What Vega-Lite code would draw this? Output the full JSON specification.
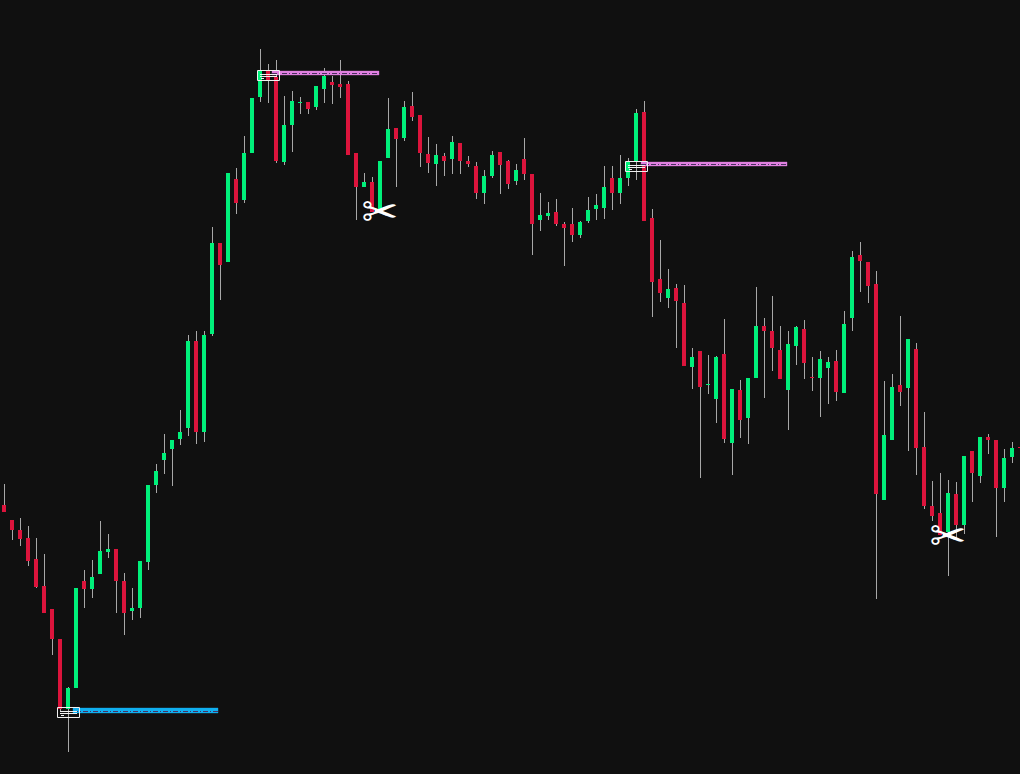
{"$schema":"https://vega.github.io/schema/vega-lite/v6.json","width":1020,"height":774,"autosize":{"type":"none"},"padding":0,"background":"#101010","config":{"view":{"stroke":null}},
"datasets":{"candles":[
{"i":0,"dir":"down","open":269,"close":262,"high":290,"low":262},
{"i":1,"dir":"down","open":254,"close":244,"high":254,"low":234},
{"i":2,"dir":"down","open":244,"close":235,"high":256,"low":228},
{"i":3,"dir":"down","open":236,"close":213,"high":248,"low":208},
{"i":4,"dir":"down","open":215,"close":187,"high":236,"low":186},
{"i":5,"dir":"down","open":188,"close":161,"high":220,"low":161},
{"i":6,"dir":"down","open":165,"close":135,"high":165,"low":119},
{"i":7,"dir":"down","open":135,"close":65,"high":135,"low":62},
{"i":8,"dir":"up","open":65,"close":86,"high":87,"low":22},
{"i":9,"dir":"up","open":86,"close":186,"high":186,"low":86},
{"i":10,"dir":"down","open":193,"close":185,"high":204,"low":166},
{"i":11,"dir":"up","open":185,"close":197,"high":214,"low":176},
{"i":12,"dir":"up","open":200,"close":223,"high":253,"low":200},
{"i":13,"dir":"up","open":222,"close":225,"high":240,"low":216},
{"i":14,"dir":"down","open":225,"close":193,"high":225,"low":161},
{"i":15,"dir":"down","open":193,"close":161,"high":201,"low":139},
{"i":16,"dir":"up","open":163,"close":166,"high":186,"low":154},
{"i":17,"dir":"up","open":166,"close":213,"high":213,"low":156},
{"i":18,"dir":"up","open":212,"close":289,"high":289,"low":204},
{"i":19,"dir":"up","open":289,"close":303,"high":310,"low":281},
{"i":20,"dir":"up","open":314,"close":321,"high":340,"low":300},
{"i":21,"dir":"up","open":325,"close":334,"high":334,"low":288},
{"i":22,"dir":"up","open":335,"close":342,"high":364,"low":329},
{"i":23,"dir":"up","open":346,"close":433,"high":439,"low":338},
{"i":24,"dir":"down","open":433,"close":342,"high":443,"low":330},
{"i":25,"dir":"up","open":342,"close":439,"high":443,"low":332},
{"i":26,"dir":"up","open":440,"close":531,"high":547,"low":438},
{"i":27,"dir":"down","open":531,"close":509,"high":531,"low":474},
{"i":28,"dir":"up","open":512,"close":601,"high":601,"low":512},
{"i":29,"dir":"down","open":595,"close":571,"high":606,"low":560},
{"i":30,"dir":"up","open":574,"close":621,"high":638,"low":571},
{"i":31,"dir":"up","open":621,"close":676,"high":676,"low":621},
{"i":32,"dir":"up","open":677,"close":703,"high":725,"low":672},
{"i":33,"dir":"down","open":703,"close":694,"high":710,"low":671},
{"i":34,"dir":"down","open":697,"close":613,"high":714,"low":611},
{"i":35,"dir":"up","open":612,"close":649,"high":678,"low":609},
{"i":36,"dir":"up","open":649,"close":673,"high":683,"low":622},
{"i":37,"dir":"up","open":671,"close":672,"high":677,"low":660},
{"i":38,"dir":"down","open":672,"close":665,"high":672,"low":660},
{"i":39,"dir":"up","open":667,"close":688,"high":688,"low":664},
{"i":40,"dir":"up","open":685,"close":698,"high":706,"low":671},
{"i":41,"dir":"down","open":692,"close":689,"high":698,"low":670},
{"i":42,"dir":"down","open":690,"close":687,"high":714,"low":676},
{"i":43,"dir":"down","open":690,"close":619,"high":693,"low":619},
{"i":44,"dir":"down","open":621,"close":587,"high":621,"low":554},
{"i":45,"dir":"up","open":587,"close":592,"high":601,"low":587},
{"i":46,"dir":"down","open":592,"close":562,"high":597,"low":562},
{"i":47,"dir":"up","open":564,"close":613,"high":613,"low":564},
{"i":48,"dir":"up","open":616,"close":645,"high":676,"low":616},
{"i":49,"dir":"down","open":646,"close":635,"high":646,"low":587},
{"i":50,"dir":"up","open":636,"close":667,"high":673,"low":633},
{"i":51,"dir":"down","open":668,"close":657,"high":682,"low":653},
{"i":52,"dir":"down","open":659,"close":621,"high":659,"low":607},
{"i":53,"dir":"down","open":620,"close":611,"high":637,"low":601},
{"i":54,"dir":"up","open":610,"close":619,"high":630,"low":588},
{"i":55,"dir":"down","open":618,"close":613,"high":621,"low":598},
{"i":56,"dir":"up","open":615,"close":632,"high":638,"low":600},
{"i":57,"dir":"down","open":631,"close":613,"high":631,"low":600},
{"i":58,"dir":"down","open":613,"close":610,"high":618,"low":607},
{"i":59,"dir":"down","open":608,"close":581,"high":612,"low":575},
{"i":60,"dir":"up","open":581,"close":598,"high":604,"low":570},
{"i":61,"dir":"up","open":598,"close":619,"high":623,"low":596},
{"i":62,"dir":"down","open":622,"close":609,"high":622,"low":580},
{"i":63,"dir":"down","open":613,"close":590,"high":614,"low":585},
{"i":64,"dir":"up","open":593,"close":604,"high":610,"low":589},
{"i":65,"dir":"down","open":615,"close":600,"high":636,"low":594},
{"i":66,"dir":"down","open":600,"close":550,"high":600,"low":519},
{"i":67,"dir":"up","open":554,"close":559,"high":581,"low":543},
{"i":68,"dir":"up","open":558,"close":561,"high":572,"low":554},
{"i":69,"dir":"down","open":562,"close":550,"high":575,"low":548},
{"i":70,"dir":"down","open":550,"close":546,"high":552,"low":508},
{"i":71,"dir":"down","open":550,"close":539,"high":566,"low":532},
{"i":72,"dir":"up","open":539,"close":552,"high":553,"low":536},
{"i":73,"dir":"up","open":553,"close":564,"high":577,"low":551},
{"i":74,"dir":"up","open":565,"close":569,"high":580,"low":554},
{"i":75,"dir":"up","open":566,"close":587,"high":608,"low":555},
{"i":76,"dir":"down","open":596,"close":581,"high":608,"low":564},
{"i":77,"dir":"up","open":581,"close":596,"high":619,"low":570},
{"i":78,"dir":"up","open":596,"close":613,"high":616,"low":588},
{"i":79,"dir":"up","open":613,"close":661,"high":665,"low":594},
{"i":80,"dir":"down","open":662,"close":553,"high":673,"low":553},
{"i":81,"dir":"down","open":556,"close":492,"high":565,"low":457},
{"i":82,"dir":"down","open":495,"close":481,"high":534,"low":472},
{"i":83,"dir":"up","open":476,"close":485,"high":505,"low":466},
{"i":84,"dir":"down","open":486,"close":473,"high":490,"low":426},
{"i":85,"dir":"down","open":471,"close":408,"high":489,"low":408},
{"i":86,"dir":"up","open":407,"close":417,"high":426,"low":385},
{"i":87,"dir":"down","open":423,"close":387,"high":423,"low":296},
{"i":88,"dir":"up","open":389,"close":390,"high":419,"low":380},
{"i":89,"dir":"up","open":375,"close":417,"high":418,"low":351},
{"i":90,"dir":"down","open":420,"close":335,"high":455,"low":331},
{"i":91,"dir":"up","open":331,"close":385,"high":385,"low":299},
{"i":92,"dir":"down","open":384,"close":354,"high":394,"low":336},
{"i":93,"dir":"up","open":356,"close":396,"high":396,"low":330},
{"i":94,"dir":"up","open":396,"close":448,"high":487,"low":396},
{"i":95,"dir":"down","open":448,"close":443,"high":456,"low":376},
{"i":96,"dir":"down","open":443,"close":426,"high":478,"low":403},
{"i":97,"dir":"down","open":424,"close":395,"high":448,"low":395},
{"i":98,"dir":"up","open":384,"close":430,"high":443,"low":344},
{"i":99,"dir":"up","open":428,"close":447,"high":448,"low":409},
{"i":100,"dir":"down","open":445,"close":411,"high":454,"low":395},
{"i":101,"dir":"down","open":397,"close":396,"high":417,"low":383},
{"i":102,"dir":"up","open":396,"close":415,"high":423,"low":357},
{"i":103,"dir":"up","open":406,"close":412,"high":417,"low":370},
{"i":104,"dir":"down","open":413,"close":382,"high":424,"low":373},
{"i":105,"dir":"up","open":381,"close":450,"high":463,"low":381},
{"i":106,"dir":"up","open":456,"close":517,"high":523,"low":443},
{"i":107,"dir":"down","open":519,"close":513,"high":532,"low":482},
{"i":108,"dir":"down","open":512,"close":488,"high":512,"low":471},
{"i":109,"dir":"down","open":490,"close":280,"high":503,"low":175},
{"i":110,"dir":"up","open":274,"close":339,"high":393,"low":274},
{"i":111,"dir":"up","open":334,"close":387,"high":400,"low":334},
{"i":112,"dir":"down","open":389,"close":382,"high":458,"low":368},
{"i":113,"dir":"up","open":386,"close":435,"high":435,"low":323},
{"i":114,"dir":"down","open":425,"close":326,"high":431,"low":299},
{"i":115,"dir":"down","open":327,"close":268,"high":362,"low":265},
{"i":116,"dir":"down","open":268,"close":258,"high":293,"low":253},
{"i":117,"dir":"down","open":261,"close":239,"high":301,"low":239},
{"i":118,"dir":"up","open":242,"close":281,"high":294,"low":198},
{"i":119,"dir":"down","open":280,"close":249,"high":292,"low":234},
{"i":120,"dir":"up","open":249,"close":318,"high":318,"low":240},
{"i":121,"dir":"down","open":323,"close":301,"high":323,"low":272},
{"i":122,"dir":"up","open":298,"close":337,"high":337,"low":291},
{"i":123,"dir":"down","open":337,"close":334,"high":340,"low":320},
{"i":124,"dir":"down","open":334,"close":286,"high":334,"low":237},
{"i":125,"dir":"up","open":286,"close":316,"high":325,"low":272},
{"i":126,"dir":"up","open":317,"close":326,"high":332,"low":311},
{"i":127,"dir":"down","open":327,"close":326,"high":327,"low":326}
],
"zones":[
{"kind":"support","start":8.625,"end":26.75,"upper":66,"lower":61,"mid":62.5},
{"kind":"resistance","start":33.5,"end":46.875,"upper":703,"lower":699,"mid":700.5},
{"kind":"resistance","start":79.625,"end":97.875,"upper":612,"lower":608,"mid":609.5}
],
"boxes":[
{"start":6.6875,"end":9.4375,"upper":66.5,"lower":56.5},
{"start":31.6875,"end":34.4375,"upper":703.5,"lower":693.5},
{"start":77.6875,"end":80.4375,"upper":612.5,"lower":602.5}
],
"boxLines":[
{"start":7,"end":9.125,"level":62.5},{"start":7,"end":9.125,"level":60.5},{"start":7.125,"end":7.5,"level":58.5},
{"start":32,"end":34.125,"level":699.5},{"start":32,"end":34.125,"level":697.5},{"start":32.125,"end":32.5,"level":695.5},
{"start":78,"end":80.125,"level":608.5},{"start":78,"end":80.125,"level":606.5},{"start":78.125,"end":78.5,"level":604.5}
],
"cuts":[{"i":47,"level":560,"label":"✂"},{"i":118,"level":236,"label":"✂"}]
},
"layer":[
{"data":{"name":"candles"},"mark":{"type":"rule","color":"#a8a8a8","strokeWidth":1,"xOffset":0.5},"encoding":{"x":{"field":"i","type":"quantitative","scale":{"domain":[-0.5,127],"nice":false,"zero":false,"padding":0},"axis":null},"y":{"field":"low","type":"quantitative","scale":{"domain":[0,774],"nice":false,"zero":false},"axis":null},"y2":{"field":"high"}}},
{"data":{"name":"candles"},"mark":{"type":"bar","size":4},"encoding":{"x":{"field":"i","type":"quantitative","scale":{"domain":[-0.5,127],"nice":false,"zero":false,"padding":0},"axis":null},"y":{"field":"open","type":"quantitative","axis":null},"y2":{"field":"close"},"color":{"field":"dir","type":"nominal","legend":null,"scale":{"domain":["up","down","support","resistance"],"range":["#00f07a","#dc143c","#10b0f0","#e080e0"]}}}},
{"data":{"name":"zones"},"mark":{"type":"rect","strokeWidth":1,"strokeOpacity":0.35},"encoding":{"x":{"field":"start","type":"quantitative","axis":null},"x2":{"field":"end"},"y":{"field":"upper","type":"quantitative","axis":null},"y2":{"field":"lower"},"color":{"field":"kind","type":"nominal","legend":null},"stroke":{"field":"kind","type":"nominal","legend":null,"scale":{"domain":["support","resistance"],"range":["#10b0f0","#e080e0"]}}}},
{"data":{"name":"zones"},"mark":{"type":"rule","color":"#4a3060","strokeWidth":1,"strokeDash":[5,2,1,2]},"encoding":{"x":{"field":"start","type":"quantitative","axis":null},"x2":{"field":"end"},"y":{"field":"mid","type":"quantitative","axis":null}}},
{"data":{"name":"boxes"},"mark":{"type":"rect","fillOpacity":0,"stroke":"#f0f0f0","strokeWidth":1},"encoding":{"x":{"field":"start","type":"quantitative","axis":null},"x2":{"field":"end"},"y":{"field":"upper","type":"quantitative","axis":null},"y2":{"field":"lower"}}},
{"data":{"name":"boxLines"},"mark":{"type":"rule","color":"#f0f0f0","strokeWidth":1},"encoding":{"x":{"field":"start","type":"quantitative","axis":null},"x2":{"field":"end"},"y":{"field":"level","type":"quantitative","axis":null}}},
{"data":{"name":"cuts"},"mark":{"type":"text","font":"DejaVu Sans","fontSize":44,"color":"#ffffff","align":"center","baseline":"middle"},"encoding":{"x":{"field":"i","type":"quantitative","axis":null},"y":{"field":"level","type":"quantitative","axis":null},"text":{"field":"label"}}}
]}
